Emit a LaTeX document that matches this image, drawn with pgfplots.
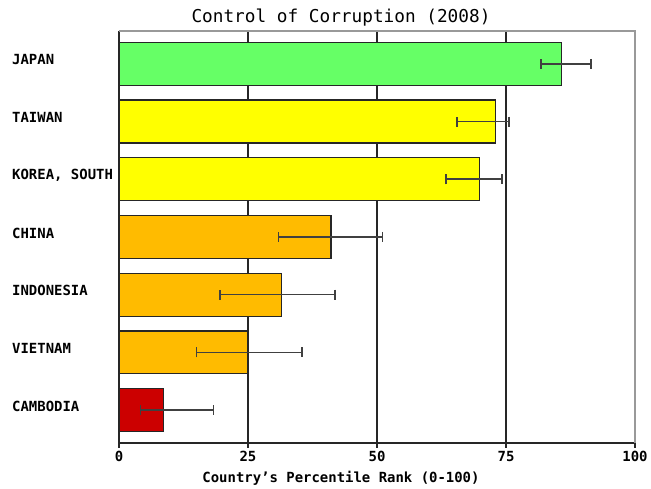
\documentclass[border=0pt]{standalone}
\usepackage{pgfplots}
\usepackage{fontspec}
\pgfplotsset{compat=1.18}
\setmainfont{DejaVu Sans Mono}

\definecolor{bargreen}{HTML}{66FF66}
\definecolor{baryellow}{HTML}{FFFF00}
\definecolor{barorange}{HTML}{FFBB00}
\definecolor{barred}{HTML}{CC0000}

\pgfplotsset{
    errx/.style={
        error bars/x dir=both,
        error bars/x explicit,
        error bars/error bar style={black!75, line width=1.6bp},
        error bars/error mark options={black!75, line width=1.6bp, mark size=5bp, rotate=90},
    },
}

\begin{document}
\begin{tikzpicture}
\begin{axis}[
    scale only axis,
    width=516bp, height=412bp,
    xmin=0, xmax=100,
    ymin=-0.57, ymax=6.57,
    clip=false,
    axis x line*=bottom, axis y line*=left,
    axis line style={draw=black!85, line width=1.3bp},
    xtick={0,25,50,75,100},
    tick align=outside,
    major tick length=5bp,
    x tick style={black!85, line width=1.3bp},
    extra x ticks={25,50,75},
    extra x tick labels={},
    extra x tick style={grid=major, major tick length=0pt},
    major grid style={black!85, line width=1.3bp},
    ytick={0,...,6},
    yticklabels={CAMBODIA,VIETNAM,INDONESIA,CHINA,{KOREA, SOUTH},TAIWAN,JAPAN},
    y tick style={draw=none},
    yticklabel style={anchor=west, inner sep=0pt, xshift=-102bp, yshift=4bp, font=\bfseries\fontsize{14}{14}\selectfont},
    xticklabel style={font=\bfseries\fontsize{14}{14}\selectfont},
    /pgf/number format/assume math mode=true,
    title={Control of Corruption (2008)},
    title style={at={(0.5,1)}, anchor=center, xshift=-36bp, yshift=7bp, font=\fontsize{17.8}{18}\selectfont},
    xlabel={Country’s Percentile Rank (0-100)},
    xlabel style={at={(0.5,0)}, anchor=center, xshift=-36bp, yshift=-35bp, font=\bfseries\fontsize{14}{14}\selectfont},
    xbar, bar shift=0pt, bar width=0.745,
]
\addplot[fill=bargreen, draw=black!85, line width=1.2bp, errx] coordinates {
    (85.7,6) += (5.8,0) -= (3.9,0)
};
\addplot[fill=baryellow, draw=black!85, line width=1.2bp, errx] coordinates {
    (72.9,5) += (2.7,0) -= (7.4,0)
    (69.8,4) += (4.4,0) -= (6.4,0)
};
\addplot[fill=barorange, draw=black!85, line width=1.2bp, errx] coordinates {
    (41.1,3) += (10.0,0) -= (10.2,0)
    (31.5,2) += (10.4,0) -= (11.9,0)
    (25.0,1) += (10.5,0) -= (10.0,0)
};
\addplot[fill=barred, draw=black!85, line width=1.2bp, errx] coordinates {
    (8.7,0) += (9.6,0) -= (4.5,0)
};
\draw[black!40, line width=1.3bp] (rel axis cs:0,1) -- (rel axis cs:1,1) -- (rel axis cs:1,0);
\end{axis}
\path (current axis.south west) ++(-119bp,-44bp) rectangle ++(651bp,487bp);
\end{tikzpicture}
\end{document}
